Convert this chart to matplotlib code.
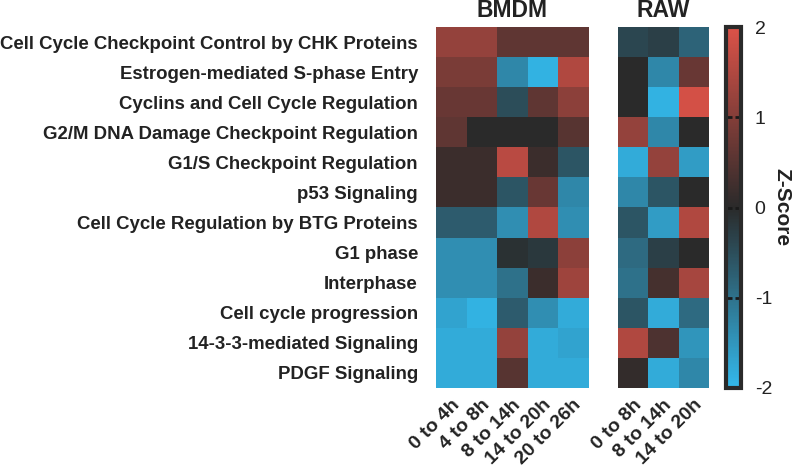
import numpy as np
import matplotlib.pyplot as plt
from matplotlib.colors import LinearSegmentedColormap

plt.rcParams['font.family'] = ['Liberation Sans', 'DejaVu Sans']
plt.rcParams['axes.unicode_minus'] = False

pathways = ["Cell Cycle Checkpoint Control by CHK Proteins",
            "Estrogen-mediated S-phase Entry",
            "Cyclins and Cell Cycle Regulation",
            "G2/M DNA Damage Checkpoint Regulation",
            "G1/S Checkpoint Regulation",
            "p53 Signaling",
            "Cell Cycle Regulation by BTG Proteins",
            "G1 phase",
            "Interphase",
            "Cell cycle progression",
            "14-3-3-mediated Signaling",
            "PDGF Signaling"]

bmdm_times = ["0 to 4h", "4 to 8h", "8 to 14h", "14 to 20h", "20 to 26h"]
raw_times = ["0 to 8h", "8 to 14h", "14 to 20h"]

bmdm_z = np.array([
    [1.2, 1.2, 0.6, 0.6, 0.6],
    [0.9, 0.9, -1.3, -1.9, 1.5],
    [0.7, 0.7, -0.5, 0.6, 1.1],
    [0.6, 0.0, 0.0, 0.0, 0.5],
    [0.2, 0.2, 1.6, 0.2, -0.6],
    [0.2, 0.2, -0.6, 0.7, -1.3],
    [-0.7, -0.7, -1.4, 1.5, -1.4],
    [-1.4, -1.4, -0.1, -0.2, 1.1],
    [-1.4, -1.4, -1.0, 0.2, 1.3],
    [-1.7, -1.9, -0.7, -1.4, -1.8],
    [-1.8, -1.8, 1.2, -1.8, -1.7],
    [-1.8, -1.8, 0.5, -1.8, -1.8],
])

raw_z = np.array([
    [-0.4, -0.3, -0.8],
    [0.0, -1.3, 0.7],
    [0.0, -1.9, 1.9],
    [1.2, -1.3, 0.0],
    [-1.8, 1.2, -1.6],
    [-1.3, -0.6, 0.0],
    [-0.6, -1.6, 1.5],
    [-0.9, -0.3, 0.0],
    [-1.0, 0.3, 1.4],
    [-0.6, -1.8, -0.9],
    [1.5, 0.4, -1.5],
    [0.1, -1.8, -1.3],
])

cmap = LinearSegmentedColormap.from_list(
    'bkr', [(0.0, '#33b9ec'), (0.5, '#2a2a2a'), (1.0, '#dc5248')])

fig = plt.figure(figsize=(8, 4.76), dpi=100)
ax1 = fig.add_axes([0.545, 0.185, 0.19, 0.758])
ax2 = fig.add_axes([0.7725, 0.185, 0.1135, 0.758])
cax = fig.add_axes([0.907, 0.185, 0.019, 0.758])

im = ax1.imshow(bmdm_z, cmap=cmap, vmin=-2, vmax=2, aspect='auto', interpolation='nearest')
ax2.imshow(raw_z, cmap=cmap, vmin=-2, vmax=2, aspect='auto', interpolation='nearest')

for ax, times, title in [(ax1, bmdm_times, 'BMDM'), (ax2, raw_times, 'RAW')]:
    for s in ax.spines.values():
        s.set_visible(False)
    ax.set_xticks(range(len(times)))
    ax.set_xticklabels(times, rotation=45, ha='right', rotation_mode='anchor',
                       fontsize=14, fontweight='bold', color='#222222')
    ax.tick_params(length=0, pad=6)
    ax.set_title(title, fontsize=16.5, fontweight='bold', color='#222222', pad=7)

ax1.set_yticks(range(len(pathways)))
ax1.set_yticklabels(pathways, fontsize=13.4, fontweight='bold', color='#222222')
ax1.tick_params(axis='y', pad=13)
ax2.set_yticks([])

cb = fig.colorbar(im, cax=cax, ticks=[-2, -1, 0, 1, 2])
cb.outline.set_linewidth(3)
cb.outline.set_edgecolor('#2a2a2a')
cax.tick_params(direction='in', length=4, width=2, color='#1a1a1a', left=True, right=True,
                labelsize=14, pad=10, labelcolor='#222222')
cb.set_label('Z-Score', rotation=-90, fontsize=15, fontweight='bold', color='#222222', labelpad=14)

fig.savefig('out.png', dpi=100)
